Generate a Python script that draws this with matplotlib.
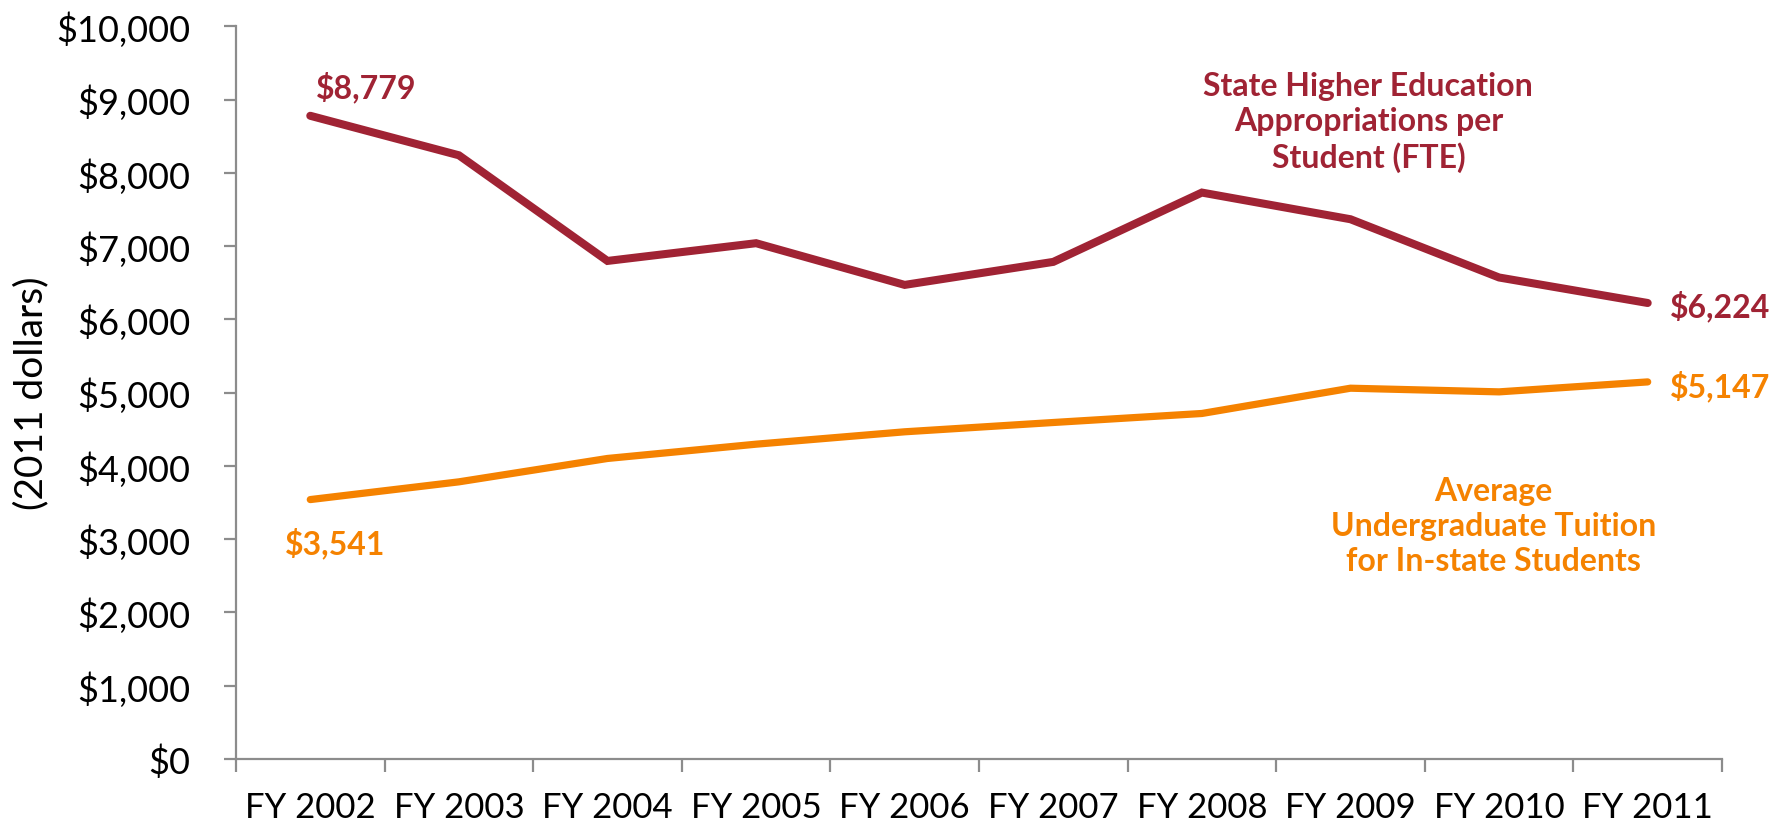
import matplotlib
matplotlib.use('Agg')
import matplotlib.pyplot as plt
from matplotlib.ticker import FuncFormatter, FixedLocator

# datos (dolares de 2011)
anios = ['FY 2002', 'FY 2003', 'FY 2004', 'FY 2005', 'FY 2006',
         'FY 2007', 'FY 2008', 'FY 2009', 'FY 2010', 'FY 2011']
apropiaciones = [8779, 8240, 6798, 7040, 6471, 6785, 7731, 7367, 6572, 6224]
colegiatura = [3541, 3783, 4102, 4297, 4466, 4593, 4716, 5061, 5011, 5147]

rojo = '#A02334'
naranja = '#F58200'
gris = '#8C8C8C'

plt.rcParams['font.family'] = ['Lato', 'DejaVu Sans']

fig = plt.figure(figsize=(17.85, 8.28), dpi=100)
ax = fig.add_axes([0.1322, 0.0821, 0.8325, 0.8849])

x = list(range(len(anios)))
ax.plot(x, apropiaciones, color=rojo, linewidth=5.8, solid_capstyle='round', solid_joinstyle='miter')
ax.plot(x, colegiatura, color=naranja, linewidth=5.2, solid_capstyle='round', solid_joinstyle='miter')

ax.set_xlim(-0.5, len(anios) - 0.5)
ax.set_ylim(0, 10000)

# ejes
for s in ['top', 'right']:
    ax.spines[s].set_visible(False)
for s in ['left', 'bottom']:
    ax.spines[s].set_color(gris)
    ax.spines[s].set_linewidth(1.6)

ax.yaxis.set_major_locator(FixedLocator(range(0, 10001, 1000)))
ax.yaxis.set_major_formatter(FuncFormatter(lambda v, p: '${:,.0f}'.format(v)))
ax.tick_params(axis='y', length=9, width=1.6, color=gris, pad=24, labelsize=26)

ax.set_xticks(x)
ax.set_xticklabels(anios)
ax.set_xticks([i - 0.5 for i in range(len(anios) + 1)], minor=True)
ax.tick_params(axis='x', which='major', length=0, pad=23, labelsize=25)
ax.tick_params(axis='x', which='minor', length=9, width=1.6, color=gris)

# titulo del eje y
fig.text(0.0174, 0.525, '(2011 dollars)', fontsize=28, rotation=90,
         ha='center', va='center')

# etiquetas de valores
n = len(anios) - 1
ax.text(0.376, 9180, '${:,}'.format(apropiaciones[0]), color=rojo, fontsize=23,
        fontweight='bold', ha='center', va='center')
ax.text(n + 0.15, apropiaciones[n] - 40, '${:,}'.format(apropiaciones[n]), color=rojo,
        fontsize=23, fontweight='bold', ha='left', va='center')
ax.text(0.17, 2950, '${:,}'.format(colegiatura[0]), color=naranja, fontsize=23,
        fontweight='bold', ha='center', va='center')
ax.text(n + 0.15, colegiatura[n] - 50, '${:,}'.format(colegiatura[n]), color=naranja,
        fontsize=23, fontweight='bold', ha='left', va='center')

# nombres de las series
ax.text(7.12, 8700, 'State Higher Education\nAppropriations per\nStudent (FTE)',
        color=rojo, fontsize=23, fontweight='bold', ha='center', va='center',
        linespacing=1.25)
ax.text(7.96, 3190, 'Average\nUndergraduate Tuition\nfor In-state Students',
        color=naranja, fontsize=23, fontweight='bold', ha='center', va='center',
        linespacing=1.25)

plt.savefig('out.png', dpi=100)
